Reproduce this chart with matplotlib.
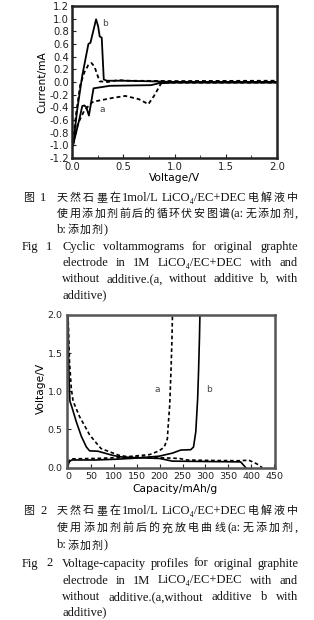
"""Two graphite-electrode figures (CV and charge/discharge) with bilingual captions."""
import matplotlib
matplotlib.use('Agg')
import matplotlib.pyplot as plt
from matplotlib.ticker import MultipleLocator

plt.rcParams['font.family'] = ['DejaVu Sans']
plt.rcParams['axes.unicode_minus'] = False

W, H = 314, 620
CAP_FONT = ['Liberation Serif', 'DejaVu Serif', 'Noto Sans CJK SC']

# ---- Fig 1: cyclic voltammograms ----
cv_b_v = [0.01, 0.05, 0.10, 0.16, 0.18, 0.235, 0.255, 0.27, 0.29, 0.31, 0.34, 0.5, 0.8, 1.0, 2.0,
          2.0, 1.0, 0.85, 0.77, 0.37, 0.21, 0.165, 0.14, 0.12, 0.10, 0.07, 0.01]
cv_b_i = [-1.0, -0.45, 0.10, 0.60, 0.62, 0.99, 0.88, 0.72, 0.70, 0.04, 0.02, 0.02, 0.01, 0.0, 0.0,
          -0.01, -0.01, -0.02, -0.05, -0.06, -0.10, -0.53, -0.40, -0.37, -0.38, -0.60, -1.0]
cv_a_v = [0.01, 0.04, 0.08, 0.12, 0.16, 0.19, 0.22, 0.25, 0.27, 0.35, 0.45, 0.55, 1.0, 2.0,
          2.0, 0.9, 0.87, 0.80, 0.745, 0.65, 0.52, 0.40, 0.21, 0.19, 0.12, 0.06, 0.01]
cv_a_i = [-0.95, -0.50, -0.05, 0.15, 0.27, 0.30, 0.24, 0.10, 0.01, 0.0, 0.03, 0.02, 0.015, 0.02,
          -0.01, -0.01, -0.02, -0.22, -0.35, -0.27, -0.22, -0.25, -0.31, -0.33, -0.45, -0.65, -0.95]

# ---- Fig 2: charge/discharge profiles ----
dis_b_c = [0, 1, 2, 4, 8, 18, 29, 40, 47, 65, 98, 116, 150, 200, 228, 300, 377, 388]
dis_b_v = [2.0, 1.5, 1.2, 0.87, 0.80, 0.60, 0.41, 0.27, 0.22, 0.215, 0.16, 0.14, 0.13, 0.12, 0.085, 0.08, 0.075, 0.0]
chg_b_c = [0, 3, 8, 60, 105, 150, 199, 228, 246, 268, 274, 279, 283, 285, 287, 288]
chg_b_v = [0.03, 0.08, 0.10, 0.10, 0.11, 0.125, 0.15, 0.19, 0.23, 0.235, 0.27, 0.47, 0.9, 1.26, 1.7, 2.0]
dis_a_c = [0, 1, 3, 7, 11, 25, 47, 62, 72, 94, 112, 134, 180, 243, 260, 300, 373, 395, 412, 424]
dis_a_v = [2.0, 1.8, 1.4, 1.04, 0.87, 0.67, 0.43, 0.32, 0.25, 0.20, 0.16, 0.14, 0.135, 0.12, 0.10, 0.095, 0.09, 0.097, 0.05, 0.0]
chg_a_c = [0, 3, 8, 60, 110, 141, 178, 199, 210, 217, 218, 222, 225, 227, 228]
chg_a_v = [0.06, 0.10, 0.115, 0.12, 0.13, 0.15, 0.17, 0.22, 0.27, 0.38, 0.49, 0.82, 1.3, 1.7, 2.0]

# ---- captions ----
cap1_cn = [
    ['天', '然', '石', '墨', '在', '1mol/L', 'LiCO₄/EC+DEC', '电', '解', '液', '中'],
    ['使', '用', '添', '加', '剂', '前', '后', '的', '循', '环', '伏', '安', '图', '谱', '(a:', '无', '添', '加', '剂', ','],
    ['b:', '添', '加', '剂', ')'],
]
cap1_en = [
    'Cyclic voltammograms for original graphte'.split(),
    'electrode in 1M LiCO₄/EC+DEC with and'.split(),
    'without additive.(a, without additive b, with'.split(),
    ['additive)'],
]
cap2_cn = [
    ['天', '然', '石', '墨', '在', '1mol/L', 'LiCO₄/EC+DEC', '电', '解', '液', '中'],
    ['使', '用', '添', '加', '剂', '前', '后', '的', '充', '放', '电', '曲', '线', '(a:', '无', '添', '加', '剂', ','],
    ['b:', '添', '加', '剂', ')'],
]
cap2_en = [
    'Voltage-capacity profiles for original graphite'.split(),
    'electrode in 1M LiCO₄/EC+DEC with and'.split(),
    'without additive.(a,without additive b with'.split(),
    ['additive)'],
]

fig = plt.figure(figsize=(W / 100, H / 100), dpi=100)

dash = (0, (2.2, 1.6))
tick_col = '#222222'

# Fig 1 axes
ax1 = fig.add_axes([72 / W, 1 - 158 / H, 205 / W, 152 / H])
ax1.plot(cv_b_v, cv_b_i, color='black', lw=1.3)
ax1.plot(cv_a_v, cv_a_i, color='black', lw=1.3, linestyle=dash)
ax1.set_xlim(0, 2.0)
ax1.set_ylim(-1.2, 1.2)
ax1.xaxis.set_major_locator(MultipleLocator(0.5))
ax1.xaxis.set_minor_locator(MultipleLocator(0.25))
ax1.yaxis.set_major_locator(MultipleLocator(0.2))
ax1.xaxis.set_major_formatter(plt.FuncFormatter(lambda v, p: f'{v:.1f}'))
ax1.yaxis.set_major_formatter(plt.FuncFormatter(lambda v, p: f'{v:.1f}'.replace('-0.0', '0.0')))
ax1.tick_params(which='both', direction='in', labelsize=7.2, colors=tick_col, pad=2, length=3)
ax1.tick_params(axis='x', pad=3)
ax1.tick_params(which='minor', length=2)
for s in ax1.spines.values():
    s.set_linewidth(1.8)
    s.set_color('#222222')
ax1.set_ylabel('Current/mA', fontsize=7.7)
ax1.set_xlabel('Voltage/V', fontsize=7.7)
ax1.yaxis.set_label_coords(-0.118, 0.5)
ax1.xaxis.set_label_coords(0.5, -0.10)
ax1.text(0.32, 0.92, 'b', fontsize=6.5, color='#444444', ha='center', va='center')
ax1.text(0.30, -0.43, 'a', fontsize=6.5, color='#444444', ha='center', va='center')

# Fig 2 axes
ax2 = fig.add_axes([66.7 / W, 1 - 468 / H, 208.3 / W, 153 / H])
ax2.plot(dis_b_c, dis_b_v, color='black', lw=1.2)
ax2.plot(chg_b_c, chg_b_v, color='black', lw=1.2)
ax2.plot(dis_a_c, dis_a_v, color='black', lw=1.2, linestyle=dash)
ax2.plot(chg_a_c, chg_a_v, color='black', lw=1.2, linestyle=dash)
ax2.set_xlim(-3, 452)
ax2.set_ylim(-0.005, 2.0)
ax2.xaxis.set_major_locator(MultipleLocator(50))
ax2.yaxis.set_major_locator(MultipleLocator(0.5))
ax2.yaxis.set_major_formatter(plt.FuncFormatter(lambda v, p: f'{v:.1f}'))
ax2.tick_params(which='both', direction='in', labelsize=6.8, colors=tick_col, pad=3, length=3)
for s in ax2.spines.values():
    s.set_linewidth(1.8)
    s.set_color('#555555')
ax2.set_ylabel('Voltage/V', fontsize=7.7)
ax2.set_xlabel('Capacity/mAh/g', fontsize=7.7)
ax2.yaxis.set_label_coords(-0.10, 0.52)
ax2.xaxis.set_label_coords(0.52, -0.105)
ax2.text(194, 1.03, 'a', fontsize=6.5, color='#444444', ha='center', va='center')
ax2.text(308, 1.03, 'b', fontsize=6.5, color='#444444', ha='center', va='center')

renderer = fig.canvas.get_renderer()


def is_cjk(tok):
    return any(0x2E80 <= ord(ch) <= 0x9FFF for ch in tok)


def put(tok, x, y, ha='left'):
    size = 7.9 if is_cjk(tok) else 9
    return fig.text(x / W, 1 - y / H, tok, fontsize=size, family=CAP_FONT,
                    ha=ha, va='center', color='#111111')


def justify(tokens, x0, x1, y, last=False):
    texts = [put(t, 0, y) for t in tokens]
    widths = [t.get_window_extent(renderer).width for t in texts]
    if last or len(tokens) == 1:
        gap = 1.0
    else:
        gap = (x1 - x0 - sum(widths)) / (len(tokens) - 1)
    x = x0
    for t, w in zip(texts, widths):
        t.set_position((x / W, 1 - y / H))
        x += w + gap


def caption(num, cn_lines, en_lines, ys):
    put('图', 23, ys[0])
    put(num, 40, ys[0])
    for k, toks in enumerate(cn_lines):
        justify(toks, 57, 298, ys[k], last=(k == len(cn_lines) - 1))
    y_en = ys[len(cn_lines):]
    put('Fig', 22, y_en[0])
    put(num, 46, y_en[0])
    for k, toks in enumerate(en_lines):
        justify(toks, 62, 298, y_en[k], last=(k == len(en_lines) - 1))


caption('1', cap1_cn, cap1_en, [198, 214, 230, 247, 263, 279, 295])
caption('2', cap2_cn, cap2_en, [511, 528, 545.5, 563.5, 580.5, 597, 612.5])

fig.savefig('out.png', dpi=100)
